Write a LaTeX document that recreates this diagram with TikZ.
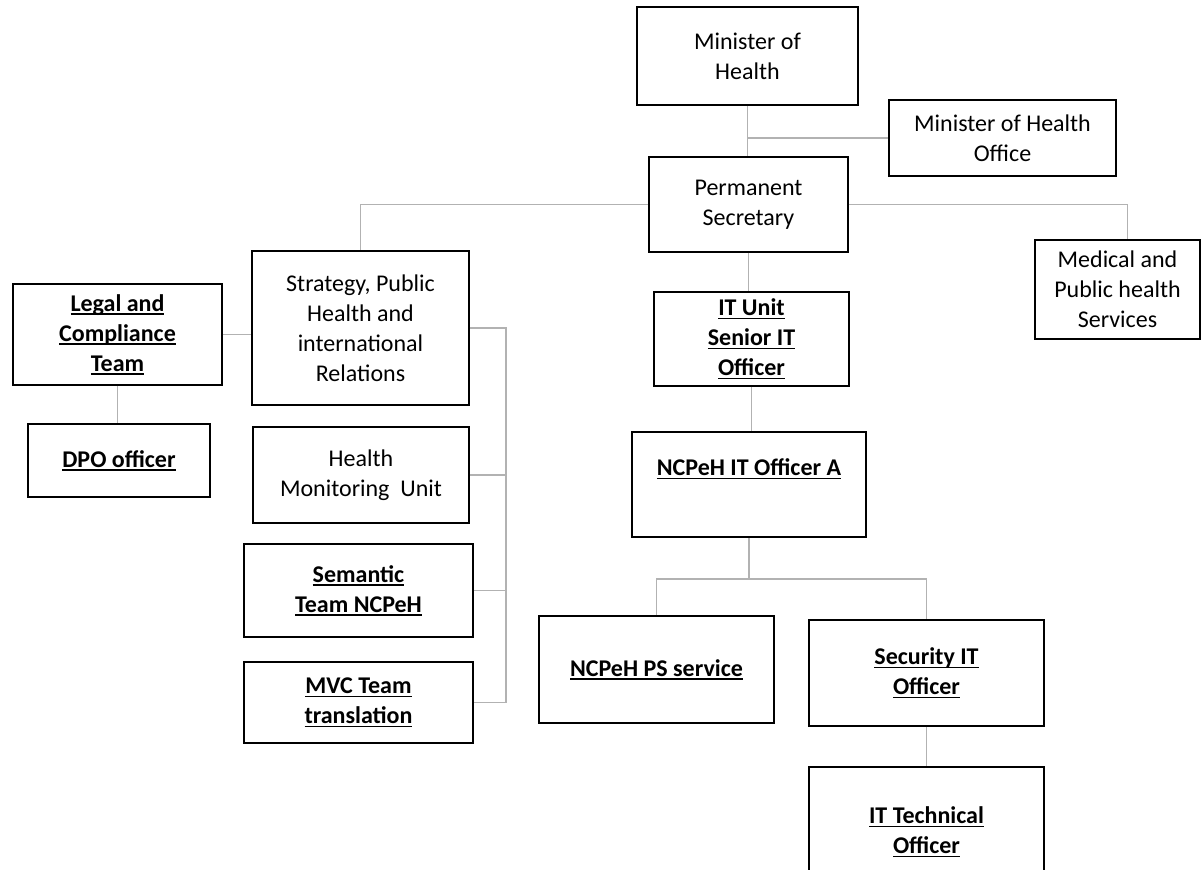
\documentclass[tikz,border=0pt]{standalone}
\usepackage{fontspec}
\setmainfont{Carlito}
\newcommand{\undl}[1]{\setbox0=\hbox{#1}\rlap{\rule[-2.6pt]{\wd0}{1.1pt}}\box0}
\tikzset{
  unitbox/.style={draw, line width=1.4pt, align=center, inner sep=0.75pt, font=\fontsize{18}{22.5}\selectfont},
  teambox/.style={unitbox, font=\fontsize{18}{22.5}\selectfont\bfseries},
  link/.style={draw={rgb, 255:red, 178; green, 178; blue, 178}, line width=0.9pt},
}
\begin{document}
\begin{tikzpicture}[x=0.75pt,y=0.75pt,yscale=-1,xscale=1]
        \useasboundingbox (0,0) rectangle (1202,870);
        %Shape: Rectangle [id:minister]
        \draw (747.5,56) node [unitbox, minimum width=165.75pt, minimum height=73.5pt] (minister) {Minister of\\Health};
        %Shape: Rectangle [id:office]
        \draw (1002.5,138) node [unitbox, minimum width=170.25pt, minimum height=57pt] (office) {Minister of Health\\Office};
        %Shape: Rectangle [id:permsec]
        \draw (748.5,204.5) node [unitbox, minimum width=149.25pt, minimum height=71.25pt] (permsec) {Permanent\\Secretary};
        %Shape: Rectangle [id:medical]
        \draw (1117.5,289.5) node [unitbox, minimum width=123.75pt, minimum height=74.25pt] (medical) {Medical and\\Public health\\Services};
        %Shape: Rectangle [id:strategy]
        \draw (360.5,328) node [unitbox, minimum width=162.75pt, minimum height=115.5pt] (strategy) {Strategy, Public\\Health and\\international\\Relations};
        %Shape: Rectangle [id:legal]
        \draw (117.5,334.5) node [teambox, minimum width=156.75pt, minimum height=75.75pt] (legal) {\undl{Legal and}\\\undl{Compliance}\\\undl{Team}};
        %Shape: Rectangle [id:dpo]
        \draw (119,460.5) node [teambox, minimum width=136.5pt, minimum height=54.75pt] (dpo) {\undl{DPO officer}};
        %Shape: Rectangle [id:health]
        \draw (361,475) node [unitbox, minimum width=162pt, minimum height=72pt] (health) {Health\\Monitoring~ Unit};
        %Shape: Rectangle [id:semantic]
        \draw (358.5,590.5) node [teambox, minimum width=171.75pt, minimum height=69.75pt] (semantic) {\undl{Semantic}\\\undl{Team NCPeH}};
        %Shape: Rectangle [id:mvc]
        \draw (358.5,702.5) node [teambox, minimum width=171.75pt, minimum height=60.75pt] (mvc) {\undl{MVC Team}\\\undl{translation}};
        %Shape: Rectangle [id:itunit]
        \draw (751.5,339) node [teambox, minimum width=146.25pt, minimum height=70.5pt] (itunit) {\undl{IT Unit}\\\undl{Senior IT}\\\undl{Officer}};
        %Shape: Rectangle [id:ncpeha]
        \draw (749,484.5) node [teambox, minimum width=175.5pt, minimum height=78.75pt] (ncpeha) {};
        % Text Node
        \draw (749,469) node [font=\fontsize{18}{22.5}\selectfont\bfseries, inner sep=0.75pt] (ncpehatext) {\undl{NCPeH IT Officer A}};
        %Shape: Rectangle [id:psservice]
        \draw (656.5,669.5) node [teambox, minimum width=176.25pt, minimum height=80.25pt] (psservice) {\undl{NCPeH PS service}};
        %Shape: Rectangle [id:security]
        \draw (926.5,673) node [teambox, minimum width=176.25pt, minimum height=79.5pt] (security) {\undl{Security IT}\\\undl{Officer}};
        %Shape: Rectangle [id:ittech]
        \draw (926.5,832) node [teambox, minimum width=176.25pt, minimum height=97.5pt] (ittech) {\undl{IT Technical}\\\undl{Officer}};

        % Connectors
        \coordinate (bus) at (506,0);
        \coordinate (fork) at (749,579);
        \draw [link] (minister.south) -- (minister.south |- permsec.north);
        \draw [link] (office.west) -- (office.west -| minister.south);
        \draw [link] (permsec.west) -| (strategy.north);
        \draw [link] (permsec.east) -| ([xshift=7.5pt]medical.north);
        \draw [link] (permsec.south) -- (permsec.south |- itunit.north);
        \draw [link] (itunit.south) -- (itunit.south |- ncpeha.north);
        \draw [link] (ncpeha.south) -- (fork);
        \draw [link] (psservice.north) |- (fork) -| (security.north);
        \draw [link] (security.south) -- (ittech.north);
        \draw [link] (legal.east) -- (legal.east -| strategy.west);
        \draw [link] (legal.south) -- (legal.south |- dpo.north);
        \draw [link] (strategy.east) -- (strategy.east -| bus) -- (mvc.east -| bus) -- (mvc.east);
        \foreach \unit in {health, semantic}
            \draw [link] (\unit.east) -- (\unit.east -| bus);
\end{tikzpicture}
\end{document}
